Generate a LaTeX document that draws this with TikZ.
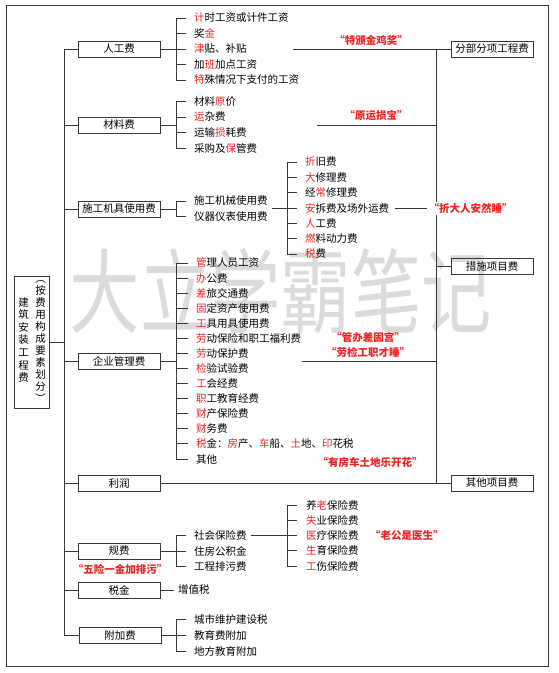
\documentclass[tikz,border=0pt]{standalone}
\usepackage{fontspec}
\setmainfont{Noto Sans CJK SC}
\definecolor{rd}{RGB}{240,32,32}
\definecolor{ink}{RGB}{55,55,55}
\newcommand{\R}[1]{\textcolor{rd}{#1}}
\newcommand{\fsz}{\fontsize{10.5}{12.6}\selectfont}
\tikzset{
  ln/.style={draw=ink, line width=1pt},
  cat/.style={draw=ink, line width=1pt, minimum width=82pt, minimum height=16pt, inner sep=0pt, font=\fsz},
  item/.style={anchor=west, inner sep=0pt, font=\fsz},
  mn/.style={text=rd, inner sep=0pt, font=\fsz\bfseries},
  wmark/.style={text=black!14, inner sep=0pt, font=\fontsize{92}{92}\selectfont}
}
\begin{document}
\begin{tikzpicture}[x=1pt,y=-1pt]
\useasboundingbox (0,0) rectangle (558,673);
% watermark
\node[wmark, xscale=0.765] (wm) at (281,291) {大立学霸笔记};
% frame
\draw[ink, line width=1pt] (6,5) rectangle (548,666);
% helper x positions
\coordinate (xt) at (64,0);
\coordinate (xb) at (176,0);
\coordinate (xb2) at (287,0);
\coordinate (bus) at (436,0);
% root
\node[draw=ink, line width=1pt, minimum width=35pt, minimum height=132pt, inner sep=0pt] (root) at (31.5,342) {};
\node[inner sep=0pt, align=center, font=\fsz] (rootL) at (23.5,340) {建\\筑\\安\\装\\工\\程\\费};
\node[inner sep=0pt, align=center, font=\fontsize{10.5}{12}\selectfont] (rootR) at (40.5,342) {︵\\按\\费\\用\\构\\成\\要\\素\\划\\分\\︶};
% categories
\node[cat] (rg) at (119,49) {人工费};
\node[cat] (cl) at (119,125) {材料费};
\node[cat] (jj) at (119,209) {施工机具使用费};
\node[cat] (gl) at (119,361) {企业管理费};
\node[cat] (lr) at (119,483) {利润};
\node[cat] (gf) at (119,551) {规费};
\node[cat] (sj) at (119,590) {税金};
\node[cat] (fj) at (120,635.5) {附加费};
% right boxes
\node[cat] (fb) at (492,49) {分部分项工程费};
\node[cat] (cs) at (492,266.5) {措施项目费};
\node[cat] (qt) at (492,483) {其他项目费};
% trunk
\draw[ln] (root.east) -- (root.east -| xt);
\draw[ln] (rg.west -| xt) -- (fj.west -| xt);
\foreach \n in {rg,cl,jj,gl,lr,gf,sj,fj} \draw[ln] (\n.west -| xt) -- (\n.west);
% bus
\draw[ln] (fb.west -| bus) -- (qt.west -| bus);
\foreach \n in {fb,cs,qt} \draw[ln] (\n.west -| bus) -- (\n.west);
% ---- 人工费
\node[item] (r1) at (194,18) {\R{计}时工资或计件工资};
\node[item] (r2) at (194,33.5) {奖\R{金}};
\node[item] (r3) at (194,49) {\R{津}贴、补贴};
\node[item] (r4) at (194,64.5) {加\R{班}加点工资};
\node[item] (r5) at (194,80) {\R{特}殊情况下支付的工资};
\draw[ln] ([xshift=-8pt]r1.west) -| ([xshift=-18pt]r5.west) -- ([xshift=-8pt]r5.west);
\foreach \n in {r2,r3,r4} \draw[ln] ([xshift=-18pt]\n.west) -- ([xshift=-8pt]\n.west);
\draw[ln] (rg.east) -- (rg.east -| xb);
\coordinate (o1) at (293,49);
\draw[ln] (o1) -- (o1 -| bus);
\node[mn] (m1) at (371,40) {“特颁金鸡奖”};
% ---- 材料费
\node[item] (c1) at (194,101.5) {材料\R{原}价};
\node[item] (c2) at (194,117) {\R{运}杂费};
\node[item] (c3) at (194,132.5) {运输\R{损}耗费};
\node[item] (c4) at (194,148) {采购及\R{保}管费};
\draw[ln] ([xshift=-8pt]c1.west) -| ([xshift=-18pt]c4.west) -- ([xshift=-8pt]c4.west);
\foreach \n in {c2,c3} \draw[ln] ([xshift=-18pt]\n.west) -- ([xshift=-8pt]\n.west);
\draw[ln] (cl.east) -- (cl.east -| xb);
\coordinate (o2) at (317,125);
\draw[ln] (o2) -- (o2 -| bus);
\node[mn] (m2) at (376,116) {“原运损宝”};
% ---- 施工机具使用费
\node[item] (j1) at (194,201) {施工机械使用费};
\node[item] (j2) at (194,216.5) {仪器仪表使用费};
\draw[ln] ([xshift=-8pt]j1.west) -| ([xshift=-18pt]j2.west) -- ([xshift=-8pt]j2.west);
\draw[ln] (jj.east) -- (jj.east -| xb);
\node[item] (s1) at (305,162) {\R{折}旧费};
\node[item] (s2) at (305,177.3) {\R{大}修理费};
\node[item] (s3) at (305,192.7) {经\R{常}修理费};
\node[item] (s4) at (305,208.5) {\R{安}拆费及场外运费};
\node[item] (s5) at (305,223.5) {\R{人}工费};
\node[item] (s6) at (305,238.8) {\R{燃}料动力费};
\node[item] (s7) at (305,254) {\R{税}费};
\draw[ln] ([xshift=-8pt]s1.west) -| ([xshift=-18pt]s7.west) -- ([xshift=-8pt]s7.west);
\foreach \n in {s2,s3,s4,s5,s6} \draw[ln] ([xshift=-18pt]\n.west) -- ([xshift=-8pt]\n.west);
\coordinate (jo) at (272,208.5);
\draw[ln] (jo) -- (jo -| xb2);
\draw[ln] ([xshift=6pt]s4.east) -- (s4.east -| bus);
\node[mn, anchor=west, fill=white, inner sep=1.5pt] (m3) at (427,208.5) {“折大人安然睡”};
% ---- 企业管理费
\foreach \t [count=\i] in {\R{管}理人员工资, \R{办}公费, \R{差}旅交通费, \R{固}定资产使用费, \R{工}具用具使用费, \R{劳}动保险和职工福利费, \R{劳}动保护费, \R{检}验试验费, \R{工}会经费, \R{职}工教育经费, \R{财}产保险费, \R{财}务费, \R{税}金：\R{房}产、\R{车}船、\R{土}地、\R{印}花税, 其他}
  \node[item] (g\i) at (196,{263+15.08*(\i-1)}) {\t};
\draw[ln] ([xshift=-8pt]g1.west) -| ([xshift=-20pt]g14.west) -- ([xshift=-8pt]g14.west);
\foreach \i in {2,...,13} \draw[ln] ([xshift=-20pt]g\i.west) -- ([xshift=-8pt]g\i.west);
\draw[ln] (gl.east) -- (gl.east -| xb);
\coordinate (o4) at (302,361);
\draw[ln] (o4) -- (o4 -| bus);
\node[mn] (m4) at (368,337) {“管办差固宫”};
\node[mn] (m5) at (368,352) {“劳检工职才睡”};
\node[mn] (m6) at (370,463) {“有房车土地乐开花”};
% ---- 利润
\draw[ln] (lr.east) -- (qt.west);
% ---- 规费
\node[item] (k1) at (194,535.5) {社会保险费};
\node[item] (k2) at (194,551) {住房公积金};
\node[item] (k3) at (194,566.5) {工程排污费};
\draw[ln] ([xshift=-8pt]k1.west) -| ([xshift=-18pt]k3.west) -- ([xshift=-8pt]k3.west);
\draw[ln] ([xshift=-18pt]k2.west) -- ([xshift=-8pt]k2.west);
\draw[ln] (gf.east) -- (gf.east -| xb);
\node[mn] (m7) at (120,569) {“五险一金加排污”};
\node[item] (b1) at (306,505) {养\R{老}保险费};
\node[item] (b2) at (306,520.25) {\R{失}业保险费};
\node[item] (b3) at (306,535.5) {\R{医}疗保险费};
\node[item] (b4) at (306,550.75) {\R{生}育保险费};
\node[item] (b5) at (306,566) {\R{工}伤保险费};
\draw[ln] ([xshift=-9pt]b1.west) -| ([xshift=-19pt]b5.west) -- ([xshift=-9pt]b5.west);
\foreach \n in {b2,b3,b4} \draw[ln] ([xshift=-19pt]\n.west) -- ([xshift=-9pt]\n.west);
\draw[ln] ([xshift=4pt]k1.east) -- (k1.east -| xb2);
\node[mn, anchor=west] (m8) at (370,535.5) {“老公是医生”};
% ---- 税金
\node[item] (z1) at (178,590) {增值税};
\draw[ln] (sj.east) -- ([xshift=-4pt]z1.west);
% ---- 附加费
\node[item] (f1) at (194,619.5) {城市维护建设税};
\node[item] (f2) at (194,635.5) {教育费附加};
\node[item] (f3) at (194,651.5) {地方教育附加};
\draw[ln] ([xshift=-8pt]f1.west) -| ([xshift=-18pt]f3.west) -- ([xshift=-8pt]f3.west);
\draw[ln] ([xshift=-18pt]f2.west) -- ([xshift=-8pt]f2.west);
\draw[ln] (fj.east) -- (fj.east -| xb);
\end{tikzpicture}
\end{document}
